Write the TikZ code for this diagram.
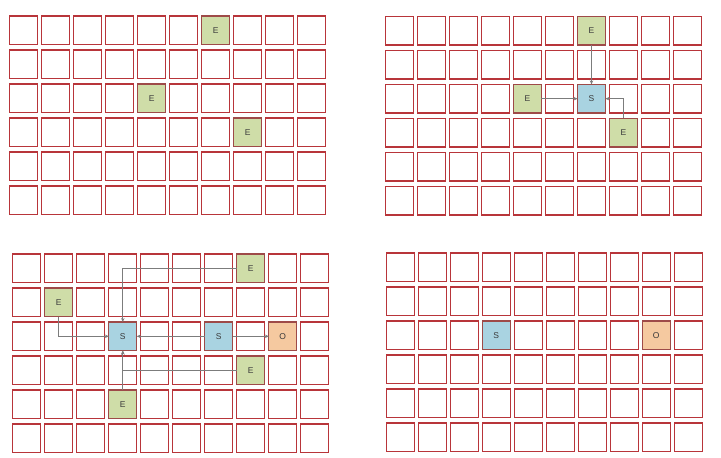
\documentclass[tikz,border=0pt]{standalone}
\usepackage{fontspec}
\setmainfont{Liberation Sans}
\usepackage{tikz}
\usetikzlibrary{arrows.meta,positioning,calc}
\definecolor{cellred}{HTML}{B8353A}
\definecolor{darkedge}{HTML}{9E4A48}
\definecolor{egreen}{HTML}{CFDDA8}
\definecolor{sblue}{HTML}{A9D3E1}
\definecolor{oorange}{HTML}{F5C9A0}
\definecolor{linegray}{HTML}{7C7C7C}
\definecolor{labelgray}{HTML}{3A3A3A}
\tikzset{
 cell/.style={draw=cellred,line width=1.1pt,fill=white,minimum width=27.8pt,
   minimum height=28.6pt,inner sep=0pt,outer sep=0pt,
   font=\fontsize{8.5}{10}\selectfont,text=labelgray},
 ecell/.style={cell,draw=darkedge,fill=egreen},
 scell/.style={cell,draw=darkedge,fill=sblue},
 ocell/.style={cell,draw=darkedge,fill=oorange},
 link/.style={-{Stealth[length=4pt,width=3.5pt]},line width=1.2pt,draw=linegray}
}
\begin{document}
\begin{tikzpicture}[x=1pt,y=-1pt]
 \useasboundingbox (0,0) rectangle (721,458);
 % four 10x6 boards
 \foreach \g/\ox/\oy in {a/9.3/15.3,b/385/15.7,c/12.3/253.3,d/385.7/252.3}{
  \foreach \r in {0,...,5}{
   \foreach \c in {0,...,9}{
    \node[cell] (\g-\r-\c) at (\ox+14.5+32*\c,\oy+15+34*\r) {};
   }
  }
 }
 % board a
 \node[ecell] (aE1) at (a-0-6) {E};
 \node[ecell] (aE2) at (a-2-4) {E};
 \node[ecell] (aE3) at (a-3-7) {E};
 % board b
 \node[ecell] (bE1) at (b-0-6) {E};
 \node[ecell] (bE2) at (b-2-4) {E};
 \node[scell] (bS) at (b-2-6) {S};
 \node[ecell] (bE3) at (b-3-7) {E};
 \draw[link] (bE1.south) -- (bS.north);
 \draw[link] (bE2.east) -- (bS.west);
 \draw[link] (bE3.north) |- (bS.east);
 % board c
 \node[ecell] (cE1) at (c-0-7) {E};
 \node[ecell] (cE2) at (c-1-1) {E};
 \node[scell] (cS1) at (c-2-3) {S};
 \node[scell] (cS2) at (c-2-6) {S};
 \node[ocell] (cO) at (c-2-8) {O};
 \node[ecell] (cE3) at (c-3-7) {E};
 \node[ecell] (cE4) at (c-4-3) {E};
 \draw[link] (cE1.west) -| (cS1.north);
 \draw[link] (cE2.south) |- (cS1.west);
 \draw[link] (cS2.west) -- (cS1.east);
 \draw[link] (cS2.east) -- (cO.west);
 \draw[link] (cE3.west) -| (cS1.south);
 \draw[link] (cE4.north) -- (cS1.south);
 % board d
 \node[scell] (dS) at (d-2-3) {S};
 \node[ocell] (dO) at (d-2-8) {O};
\end{tikzpicture}
\end{document}
